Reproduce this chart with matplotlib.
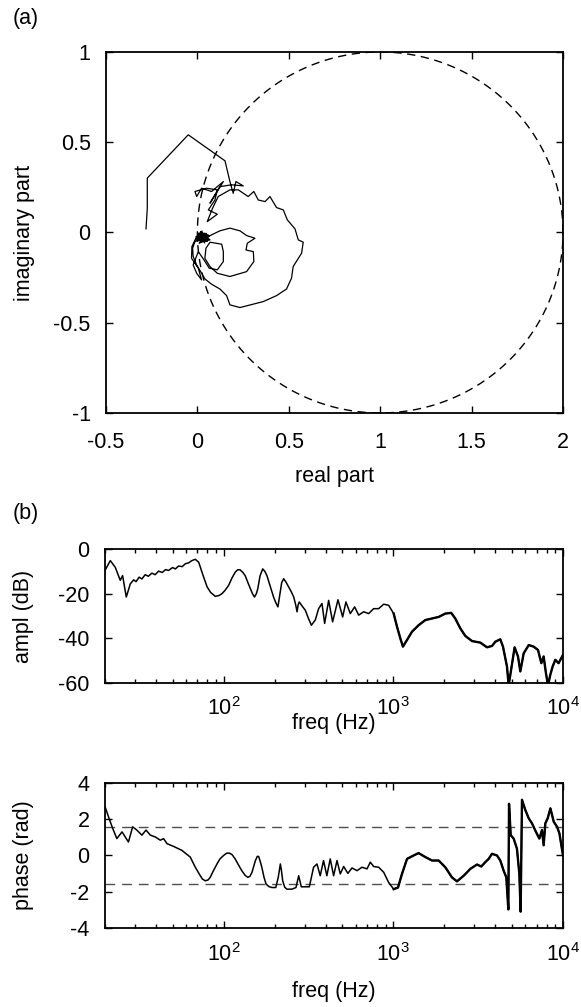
import numpy as np
import matplotlib.pyplot as plt

plt.rcParams['font.family'] = ['Liberation Sans', 'DejaVu Sans']
plt.rcParams['axes.unicode_minus'] = False
plt.rcParams['mathtext.fontset'] = 'custom'
plt.rcParams['mathtext.rm'] = 'Liberation Sans'
plt.rcParams['mathtext.it'] = 'Liberation Sans:italic'
plt.rcParams['mathtext.bf'] = 'Liberation Sans:bold'
plt.rcParams['font.size'] = 15.5

# (a) complex response (low freq -> high freq)
nyq_real = [-0.281, -0.274, -0.274, -0.050, 0.151, 0.178, 0.196, 0.211, 0.251, 0.187,
            0.123, 0.069, 0.142, 0.078, 0.023, -0.004, -0.013, 0.050, 0.109, 0.096,
            0.060, 0.109, 0.054, 0.083, 0.114, 0.178, 0.224,
            0.278, 0.309, 0.333, 0.370, 0.397, 0.433, 0.470, 0.492, 0.534, 0.552,
            0.579, 0.570, 0.524, 0.515, 0.488, 0.433, 0.360, 0.233, 0.178, 0.160,
            0.123, 0.078, 0.041, 0.018, -0.004, -0.023, -0.026, -0.013,
            0.041, 0.078, 0.123, 0.178, 0.233, 0.269, 0.315, 0.273, 0.266, 0.306,
            0.309, 0.269, 0.178, 0.109, 0.069, 0.041, 0.047, 0.069,
            0.133, 0.142, 0.142, 0.109, 0.065, 0.036, 0.005,
            -0.023, -0.004, 0.023, 0.005, -0.032, -0.030, -0.008,
            0.023, -0.004, 0.060, 0.005, 0.069, 0.014, 0.041, -0.008, 0.054, 0.018,
            0.005, 0.047, 0.010, 0.062, 0.000, 0.035, 0.025, -0.010, 0.050, 0.020,
            0.065, 0.008, 0.040, 0.030, 0.002, 0.058, 0.015, 0.045, 0.028, 0.022,
            0.035, 0.012]
nyq_imag = [0.020, 0.134, 0.301, 0.541, 0.397, 0.282, 0.217, 0.282, 0.258, 0.264,
            0.254, 0.162, 0.282, 0.227, 0.245, 0.199, 0.227, 0.245, 0.236, 0.180,
            0.125, 0.101, 0.060, 0.134, 0.199, 0.236, 0.236,
            0.199, 0.227, 0.180, 0.171, 0.199, 0.138, 0.125, 0.070, 0.020, -0.041,
            -0.054, -0.115, -0.189, -0.253, -0.313, -0.350, -0.383, -0.416, -0.401, -0.350,
            -0.313, -0.287, -0.257, -0.217, -0.180, -0.133, -0.087, -0.050,
            -0.032, -0.013, 0.009, 0.024, 0.009, -0.017, -0.032, -0.060, -0.097, -0.106,
            -0.161, -0.217, -0.244, -0.226, -0.189, -0.143, -0.087, -0.054,
            -0.065, -0.106, -0.161, -0.207, -0.198, -0.152, -0.106,
            -0.180, -0.226, -0.263, -0.198, -0.143, -0.078, -0.032,
            -0.013, -0.041, -0.023, -0.004, -0.041, -0.054, -0.004, -0.023, -0.050, 0.005,
            -0.032, -0.015, -0.060, -0.033, -0.010, -0.045, 0.008, -0.035, -0.005, -0.040,
            -0.020, -0.018, -0.058, -0.002, -0.048, -0.012, -0.028, -0.030, -0.020, -0.035,
            -0.015, -0.010]
circle_center = 1.0
circle_radius = 1.0

# (b) amplitude
ampl_freq = [20, 21.5, 23, 24.6, 25.4, 26.7, 28.2, 29.5, 30.5, 31.8, 33, 34.5, 36, 37.8,
             39.5, 41.4, 43.5, 45.5, 47.4, 50, 52, 54.3, 57, 59.5, 62.2, 65, 68.1, 71.3,
             76.3, 80, 84, 89.4, 94, 97.8, 102, 107, 112, 117, 121, 125, 130, 134, 139,
             144, 148, 152, 156, 159, 164, 170, 175, 180, 188, 197, 203, 209, 215, 220,
             226, 234, 242, 250, 259, 266, 271, 275, 279, 290, 303, 316, 329, 347, 363,
             380, 394, 416, 439, 472, 503, 526, 558, 592, 625, 669, 716, 766, 820, 878,
             939, 1005, 1052, 1100, 1140, 1205, 1289, 1410, 1545, 1691, 1851, 2025,
             2196, 2318, 2482, 2656, 2909, 3258, 3566, 3815, 3993, 4272, 4430, 4677,
             4783, 4894, 5188, 5430, 5606, 5866, 6280, 6720, 7125, 7452, 7692, 7935,
             8160, 8420, 8690, 9010, 9420, 10000]
ampl_db = [-9.6, -5.2, -8.2, -14.0, -11.9, -21.5, -15.6, -13.8, -14.6, -12.6, -13.4, -11.5,
           -12.2, -10.8, -11.5, -9.9, -10.5, -9.2, -9.6, -8.3, -8.9, -7.6, -7.9, -6.6,
           -6.2, -5.2, -4.6, -5.9, -12.6, -17.0, -19.5, -21.2, -20.8, -20.0, -18.5, -16.3,
           -13.0, -10.4, -9.3, -9.3, -10.5, -11.9, -15.0, -17.8, -20.0, -21.5, -20.0,
           -17.8, -12.0, -8.9, -10.0, -11.9, -16.5, -21.5, -24.0, -25.9, -20.0, -15.0,
           -13.3, -15.0, -17.0, -19.0, -21.5, -25.0, -28.1, -25.0, -23.7, -25.5, -27.4,
           -31.0, -34.1, -31.8, -26.7, -24.4, -33.3, -23.0, -32.6, -22.7, -30.4, -23.7,
           -28.9, -25.9, -29.6, -28.1, -28.9, -26.7, -26.7, -24.7, -25.2, -28.9, -34.8,
           -40.0, -43.7, -40.7, -37.0, -34.1, -31.8, -31.1, -30.4, -28.9, -28.6, -31.1,
           -35.5, -38.9, -41.2, -41.9, -44.0, -43.4, -41.5, -40.4, -43.7, -52.6, -61.0,
           -56.3, -44.0, -48.1, -54.8, -46.7, -43.0, -43.7, -45.2, -51.1, -48.1, -55.6,
           -61.0, -56.3, -52.6, -49.6, -51.1, -47.4]

# (b) phase
phase_freq = [20, 20.8, 22.2, 23.5, 25.2, 27.5, 29.1, 30.8, 33, 34.9, 37, 39.6, 42.4,
              44.3, 46.4, 50.7, 56.8, 63.6, 68.1, 72.9, 75, 78, 81, 83.4, 87, 91.4, 95,
              100, 104, 108, 112, 117, 122, 128, 134, 139, 143, 147, 151, 154, 158, 161,
              164, 168, 173, 178, 185, 193, 203, 210, 216, 219, 223, 229, 236, 253, 267,
              277, 287, 303, 320, 339, 355, 371, 388, 406, 425, 445, 466, 487, 510, 540,
              571, 611, 654, 700, 732, 766, 820, 878, 939, 1005, 1066, 1125, 1205, 1318,
              1410, 1545, 1691, 1851, 2025, 2216, 2373, 2599, 2845, 3114, 3300, 3484,
              3648, 3815, 4083, 4272, 4470, 4635, 4764, 4808, 4919, 5120, 5355, 5530,
              5629, 5733, 5997, 6280, 6566, 6930, 7255, 7521, 7692, 7870, 8126, 8430,
              8820, 9230, 9530, 10000]
phase_rad = [2.70, 2.23, 1.49, 0.93, 1.30, 0.74, 1.58, 1.40, 1.12, 1.40, 1.12, 1.02, 0.84,
             0.93, 0.65, 0.50, 0.28, -0.09, -0.65, -1.12, -1.30, -1.40, -1.35, -1.21,
             -0.85, -0.47, -0.20, 0.00, 0.12, 0.13, 0.05, -0.19, -0.50, -0.84, -1.10,
             -1.21, -1.15, -0.93, -0.55, -0.28, -0.05, -0.06, -0.30, -0.65, -1.20, -1.58,
             -1.72, -1.77, -1.77, -1.20, -0.47, -0.80, -1.40, -1.75, -1.86, -1.86, -1.77,
             -1.12, -1.73, -1.73, -1.73, -0.65, -0.47, -1.12, -0.28, -1.12, -0.19, -1.12,
             -0.28, -1.02, -0.61, -0.99, -0.69, -0.84, -0.65, -0.74, -0.37, -0.61, -0.65,
             -0.93, -1.49, -1.86, -1.77, -1.02, -0.19, 0.00, 0.13, -0.09, -0.28, -0.28,
             -0.65, -1.21, -1.43, -1.12, -0.74, -0.50, -0.61, -0.37, -0.19, 0.09, 0.00,
             -0.28, -0.84, -1.21, -2.98, 2.85, 1.12, 0.93, 0.37, -1.02, -3.10, 3.07, 2.51,
             2.05, 1.77, 1.30, 0.93, 1.40, 0.56, 1.77, 2.05, 2.60, 1.86, 1.58, 1.21, 0.00]
quarter_turn = [np.pi / 2, -np.pi / 2]

ampl_freq = np.array(ampl_freq)
ampl_db = np.array(ampl_db)
phase_freq = np.array(phase_freq)
phase_rad = np.array(phase_rad)


def matlab_box(ax, xpad=14):
    ax.tick_params(which='both', direction='in', top=True, right=True, width=1.0)
    ax.tick_params(axis='y', pad=11)
    ax.tick_params(axis='x', pad=xpad)
    ax.tick_params(which='major', length=5)
    ax.tick_params(which='minor', length=3)
    for s in ax.spines.values():
        s.set_linewidth(1.3)


fig = plt.figure(figsize=(5.81, 10.07), dpi=100)

# (a) Nyquist plot
ax1 = fig.add_axes([0.1824, 0.5899, 0.7866, 0.3585])
th = np.linspace(0, 2 * np.pi, 400)
ax1.plot(circle_center + circle_radius * np.cos(th), circle_radius * np.sin(th),
         color='k', lw=1.0, linestyle=(0, (6, 4)))
ax1.plot(nyq_real, nyq_imag, color='k', lw=0.9)
ax1.set_xlim(-0.5, 2)
ax1.set_ylim(-1, 1)
ax1.set_xticks([-0.5, 0, 0.5, 1, 1.5, 2])
ax1.set_xticklabels(['-0.5', '0', '0.5', '1', '1.5', '2'])
ax1.set_yticks([-1, -0.5, 0, 0.5, 1])
ax1.set_yticklabels(['-1', '-0.5', '0', '0.5', '1'])
ax1.set_xlabel('real part')
ax1.set_ylabel('imaginary part')
matlab_box(ax1)
ax1.xaxis.set_label_coords(0.5, -0.175)
ax1.yaxis.set_label_coords(-0.179, 0.5)
ax1.xaxis.label.set_va('center')
ax1.yaxis.label.set_va('center')

# (b) amplitude
ax2 = fig.add_axes([0.1807, 0.3217, 0.7883, 0.1331])
ax2.semilogx(ampl_freq, ampl_db, color='k', lw=1.1)
hi = ampl_freq >= 1000
ax2.semilogx(ampl_freq[hi], ampl_db[hi], color='k', lw=1.7)
ax2.set_xlim(20, 1e4)
ax2.set_ylim(-60, 0)
ax2.set_yticks([-60, -40, -20, 0])
ax2.set_xlabel('freq (Hz)')
ax2.set_ylabel('ampl (dB)')
matlab_box(ax2, xpad=10)
ax2.xaxis.set_label_coords(0.5, -0.30)
ax2.yaxis.set_label_coords(-0.177, 0.5)
ax2.xaxis.label.set_va('center')
ax2.yaxis.label.set_va('center')

# phase
ax3 = fig.add_axes([0.1807, 0.0785, 0.7883, 0.1440])
for q in quarter_turn:
    ax3.axhline(q, color='0.3', lw=1.0, linestyle=(0, (7, 5)))
ax3.semilogx(phase_freq, phase_rad, color='k', lw=1.1)
hi = phase_freq >= 1000
ax3.semilogx(phase_freq[hi], phase_rad[hi], color='k', lw=1.7)
ax3.set_xlim(20, 1e4)
ax3.set_ylim(-4, 4)
ax3.set_yticks([-4, -2, 0, 2, 4])
ax3.set_xlabel('freq (Hz)')
ax3.set_ylabel('phase (rad)')
matlab_box(ax3, xpad=11)
ax3.xaxis.set_label_coords(0.5, -0.441)
ax3.yaxis.set_label_coords(-0.177, 0.5)
ax3.xaxis.label.set_va('center')
ax3.yaxis.label.set_va('center')

fig.text(0.022, 0.9816, '(a)', ha='left', va='center')
fig.text(0.022, 0.4896, '(b)', ha='left', va='center')

fig.savefig('out.png', dpi=100)
